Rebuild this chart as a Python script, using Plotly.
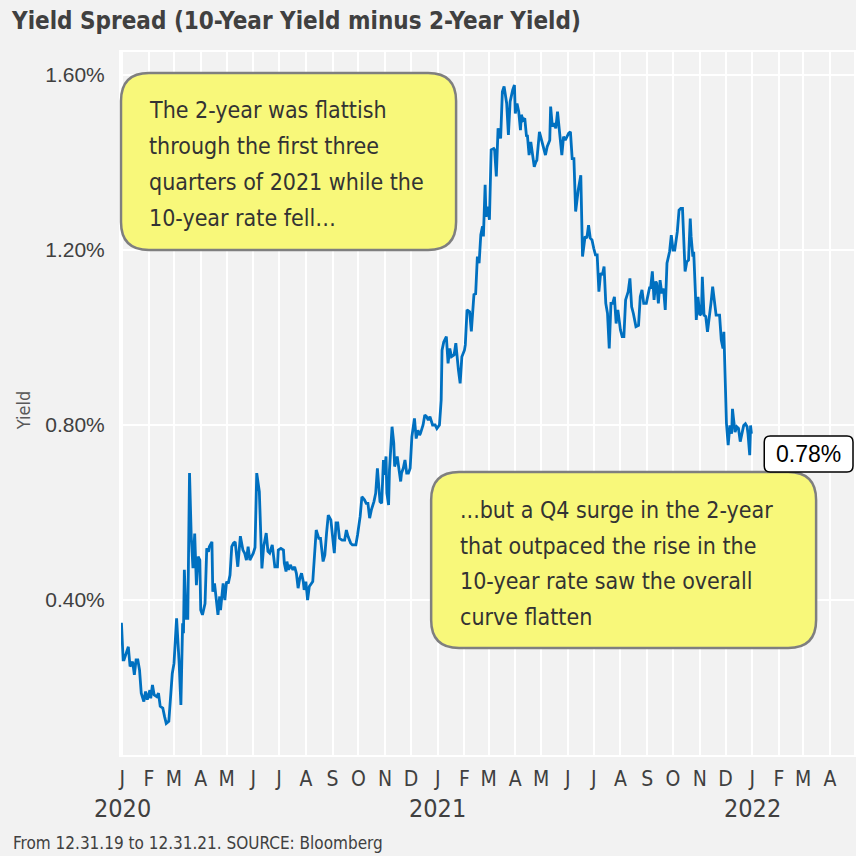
import pandas as pd
import plotly.graph_objects as go

# ---------------- data ----------------
start_date = "2020-01-01"
days = [-1, 1, 2, 7, 9, 12, 14, 16, 18, 20, 22, 25, 27, 29, 32, 33, 35, 37, 40, 42, 44, 47, 49, 51, 54,
        58, 60, 63, 66, 68, 70, 71, 72, 74, 76, 78, 80, 82, 84, 86, 88, 90, 91, 93, 96, 98, 100, 101, 104,
        105, 107, 109, 111, 113, 114, 117, 119, 121, 123, 125, 127, 129, 131, 134, 135, 137, 140, 142, 144,
        146, 148, 150, 152, 154, 156, 159, 162, 164, 167, 169, 171, 174, 176, 177, 180, 181, 184, 187, 188,
        190, 191, 193, 195, 198, 200, 202, 204, 206, 208, 210, 211, 213, 215, 217, 221, 223, 225, 228, 230,
        233, 235, 237, 239, 242, 244, 246, 248, 250, 252, 255, 258, 260, 262, 265, 267, 271, 273, 276, 278,
        281, 283, 285, 287, 289, 292, 294, 296, 297, 299, 301, 303, 304, 306, 307, 309, 310, 312, 313, 315,
        316, 319, 321, 323, 324, 326, 328, 330, 332, 334, 336, 337, 339, 341, 343, 345, 346, 349, 351, 353,
        355, 357, 360, 363, 365, 368, 370, 371, 373, 376, 378, 380, 382, 385, 387, 390, 392, 394, 397, 398,
        400, 403, 405, 408, 410, 412, 414, 416, 418, 419, 421, 422, 424, 426, 428, 431, 432, 434, 436, 439,
        441, 443, 446, 448, 450, 453, 455, 456, 458, 460, 462, 463, 465, 467, 469, 470, 472, 474, 476, 478,
        480, 481, 484, 486, 489, 491, 493, 496, 497, 499, 501, 503, 505, 507, 508, 510, 512, 514, 516, 518,
        520, 522, 524, 526, 529, 532, 534, 537, 539, 541, 543, 545, 547, 549, 551, 553, 555, 557, 559, 561,
        563, 565, 567, 569, 571, 573, 575, 578, 580, 582, 584, 587, 589, 591, 593, 596, 599, 601, 603, 605,
        608, 610, 612, 613, 615, 617, 619, 620, 622, 624, 626, 628, 630, 632, 635, 637, 639, 641, 643, 644,
        646, 648, 650, 652, 653, 655, 657, 659, 660, 662, 663, 665, 666, 668, 670, 672, 673, 675, 677, 679,
        681, 683, 685, 687, 689, 691, 693, 695, 697, 698, 700, 701, 703, 705, 707, 708, 709, 711, 713, 715,
        717, 719, 721, 723, 725, 726, 728, 729, 730]
spread = [0.348, 0.263, 0.263, 0.293, 0.248, 0.259, 0.229, 0.263, 0.263, 0.240, 0.187, 0.168, 0.191, 0.172,
          0.194, 0.175, 0.206, 0.183, 0.179, 0.187, 0.157, 0.153, 0.134, 0.118, 0.123,
          0.232, 0.255, 0.358, 0.255, 0.160, 0.347, 0.324, 0.469, 0.358, 0.358, 0.690, 0.545, 0.473, 0.552,
          0.434, 0.499, 0.491, 0.377, 0.366, 0.392, 0.518, 0.510, 0.522, 0.533,
          0.419, 0.438, 0.408, 0.366, 0.408, 0.377, 0.438, 0.400, 0.442, 0.438, 0.457, 0.522, 0.530, 0.533,
          0.476, 0.499, 0.546, 0.514, 0.507, 0.491,
          0.522, 0.491, 0.499, 0.507, 0.520, 0.690, 0.648, 0.472, 0.522, 0.553, 0.511, 0.507, 0.526, 0.484,
          0.476, 0.476, 0.514, 0.518, 0.514, 0.484,
          0.465, 0.488, 0.469, 0.480, 0.469, 0.476, 0.461, 0.427, 0.450, 0.461, 0.442, 0.423, 0.442, 0.400,
          0.431, 0.442, 0.499, 0.560, 0.541, 0.541,
          0.488, 0.503, 0.553, 0.594, 0.583, 0.549, 0.507, 0.576, 0.576, 0.541, 0.537, 0.537, 0.560, 0.545,
          0.530, 0.526, 0.526, 0.549, 0.591, 0.636,
          0.629, 0.621, 0.621, 0.587, 0.606, 0.625, 0.644, 0.701, 0.674, 0.625, 0.621, 0.720, 0.686, 0.728,
          0.644, 0.617, 0.697, 0.766, 0.796, 0.758,
          0.705, 0.728, 0.701, 0.671, 0.690, 0.701, 0.720, 0.690, 0.690, 0.701, 0.773, 0.784, 0.815, 0.769,
          0.788, 0.777, 0.781, 0.800, 0.823, 0.819,
          0.811, 0.819, 0.800, 0.800, 0.792, 0.800, 0.857, 0.971, 0.990, 1.002, 0.941, 0.975, 0.956, 0.960,
          0.987, 0.926, 0.895, 0.956, 0.971, 0.983,
          1.063, 1.059, 1.014, 1.098, 1.100, 1.185, 1.170, 1.235, 1.254, 1.231, 1.349, 1.276, 1.299, 1.269,
          1.429, 1.432, 1.429, 1.368, 1.478, 1.455,
          1.562, 1.574, 1.535, 1.463, 1.539, 1.566, 1.577, 1.512, 1.535, 1.516, 1.474, 1.509, 1.497, 1.501,
          1.459, 1.463, 1.417, 1.447, 1.413, 1.390,
          1.402, 1.405, 1.470, 1.455, 1.432, 1.417, 1.436, 1.451, 1.528, 1.482, 1.490, 1.478, 1.516, 1.470,
          1.459, 1.417, 1.459, 1.451, 1.459, 1.467,
          1.470, 1.409, 1.409, 1.288, 1.337, 1.371, 1.185, 1.231, 1.227, 1.257, 1.227, 1.223, 1.204, 1.189,
          1.189, 1.105, 1.147, 1.143, 1.162, 1.078,
          1.055, 0.975, 1.078, 1.078, 1.093, 1.032, 1.063, 1.017, 1.002, 1.002, 1.086, 1.105, 1.135, 1.070,
          1.055, 1.025, 1.028, 1.093, 1.109, 1.078,
          1.078, 1.101, 1.116, 1.112, 1.151, 1.086, 1.128, 1.124, 1.078, 1.131, 1.101, 1.112, 1.063, 1.170,
          1.196, 1.234, 1.200, 1.200, 1.227, 1.242,
          1.291, 1.295, 1.295, 1.200, 1.151, 1.173, 1.177, 1.272, 1.231, 1.185, 1.196, 1.101, 1.040, 1.093,
          1.051, 1.055, 1.139, 1.051, 1.048, 1.013,
          1.040, 1.078, 1.116, 1.086, 1.051, 1.051, 1.051, 0.994, 0.975, 1.013, 0.872, 0.804, 0.754, 0.799,
          0.780, 0.837, 0.818, 0.784, 0.796, 0.792,
          0.762, 0.784, 0.799, 0.803, 0.796, 0.780, 0.731, 0.799, 0.780]

y_ticks = [0.4, 0.8, 1.2, 1.6]
month_letters = ["J", "F", "M", "A", "M", "J", "J", "A", "S", "O", "N", "D"]
year_labels = ["2020", "2021", "2022"]

title_text = "Yield Spread (10-Year Yield minus 2-Year Yield)"
note1_lines = ["The 2-year was flattish", "through the first three",
               "quarters of 2021 while the", "10-year rate fell…"]
note2_lines = ["...but a Q4 surge in the 2-year", "that outpaced the rise in the",
               "10-year rate saw the overall", "curve flatten"]
source_text = "From 12.31.19 to 12.31.21. SOURCE: Bloomberg"

# ---------------- build ----------------
dates = pd.Timestamp(start_date) + pd.to_timedelta(days, unit="D")
month_ticks = pd.date_range("2020-01-01", "2022-04-01", freq="MS")
month_text = [month_letters[d.month - 1] for d in month_ticks]

W, H = 856, 856
L, R, T, B = 121, 0, 52, 101
PW, PH = W - L - R, H - T - B

COND = "'DejaVu Sans Condensed', 'Liberation Sans Narrow', 'Roboto Condensed', 'Arial Narrow', sans-serif"
REG = "'Liberation Sans', Arial, sans-serif"
TXT = "#404040"


def px(xp):
    return (xp - L) / PW


def py(yp):
    return (H - B - yp) / PH


def rrect(x0, y0, x1, y1, r):
    pts = [("M", [(x0 + r, y0)]), ("L", [(x1 - r, y0)]), ("Q", [(x1, y0), (x1, y0 + r)]),
           ("L", [(x1, y1 - r)]), ("Q", [(x1, y1), (x1 - r, y1)]), ("L", [(x0 + r, y1)]),
           ("Q", [(x0, y1), (x0, y1 - r)]), ("L", [(x0, y0 + r)]), ("Q", [(x0, y0), (x0 + r, y0)])]
    s = ""
    for cmd, ps in pts:
        s += cmd + " " + " ".join(f"{px(a):.5f},{py(b):.5f}" for a, b in ps) + " "
    return s + "Z"


fig = go.Figure()
fig.add_trace(go.Scatter(x=dates, y=spread, mode="lines",
                         line=dict(color="#0070C0", width=2.8), hoverinfo="skip"))

x_start = pd.Timestamp(start_date) - pd.Timedelta(days=1.5)
x_end = x_start + pd.Timedelta(days=PW / 0.8642)
y_lo = 0.4 - (H - B - 600) / 437.5
y_hi = 1.6 + (75 - T) / 437.5

fig.update_layout(
    width=W, height=H,
    margin=dict(l=L, r=R, t=T, b=B),
    paper_bgcolor="#f2f2f2", plot_bgcolor="#f2f2f2",
    showlegend=False,
    xaxis=dict(range=[x_start, x_end], tickvals=month_ticks, ticktext=month_text,
               showgrid=True, gridcolor="white", gridwidth=1.5, zeroline=False,
               showline=True, linecolor="white", linewidth=2, mirror=True,
               ticks="", tickfont=dict(family=COND, size=21, color=TXT), tickangle=0,
               ticklabelstandoff=4),
    yaxis=dict(range=[y_lo, y_hi], tickvals=y_ticks, ticktext=[f"{v:.2f}%" for v in y_ticks],
               showgrid=True, gridcolor="white", gridwidth=2, zeroline=False,
               showline=True, linecolor="white", linewidth=2, mirror=True,
               ticks="", tickfont=dict(family=REG, size=21, color=TXT),
               ticklabelstandoff=10),
)

shapes = [
    dict(type="path", xref="paper", yref="paper", path=rrect(121, 73, 457, 250, 28),
         fillcolor="#f8f87a", line=dict(color="#7f7f7f", width=2.5), layer="above"),
    dict(type="path", xref="paper", yref="paper", path=rrect(432, 472, 818, 648, 28),
         fillcolor="#f8f87a", line=dict(color="#7f7f7f", width=2.5), layer="above"),
    dict(type="path", xref="paper", yref="paper", path=rrect(766, 436, 855, 472, 6),
         fillcolor="white", line=dict(color="black", width=1.5), layer="above"),
]
fig.update_layout(shapes=shapes)

ann = []
ann.append(dict(text=f"<b>{title_text}</b>", xref="paper", yref="paper", x=px(9), y=py(21),
                xanchor="left", yanchor="middle", showarrow=False,
                font=dict(family=COND, size=24, color=TXT)))
ann.append(dict(text="Yield", xref="paper", yref="paper", x=px(23), y=py(410), textangle=-90,
                xanchor="center", yanchor="middle", showarrow=False,
                font=dict(family=COND, size=18, color="#595959")))
for i, ln in enumerate(note1_lines):
    ann.append(dict(text=ln, xref="paper", yref="paper", x=px(147), y=py(110 + 36 * i),
                    xanchor="left", yanchor="middle", showarrow=False,
                    font=dict(family=COND, size=23, color="#333333")))
for i, ln in enumerate(note2_lines):
    ann.append(dict(text=ln, xref="paper", yref="paper", x=px(459), y=py(510 + 35.5 * i),
                    xanchor="left", yanchor="middle", showarrow=False,
                    font=dict(family=COND, size=23, color="#333333")))
ann.append(dict(text=f"{spread[-1]:.2f}%", xref="paper", yref="paper", x=px(810.5), y=py(454),
                xanchor="center", yanchor="middle", showarrow=False,
                font=dict(family=REG, size=23, color="black")))
for yr in year_labels:
    ann.append(dict(text=yr, xref="x", yref="paper", x=pd.Timestamp(f"{yr}-01-01"), y=py(808),
                    xanchor="center", yanchor="middle", showarrow=False,
                    font=dict(family=COND, size=25, color=TXT)))
ann.append(dict(text=source_text, xref="paper", yref="paper", x=px(11), y=py(843),
                xanchor="left", yanchor="middle", showarrow=False,
                font=dict(family=COND, size=17, color=TXT)))
fig.update_layout(annotations=ann)

fig.write_html("out.html", config={"displayModeBar": False},
               post_script="document.body.style.margin='0';document.body.style.overflow='hidden';")
